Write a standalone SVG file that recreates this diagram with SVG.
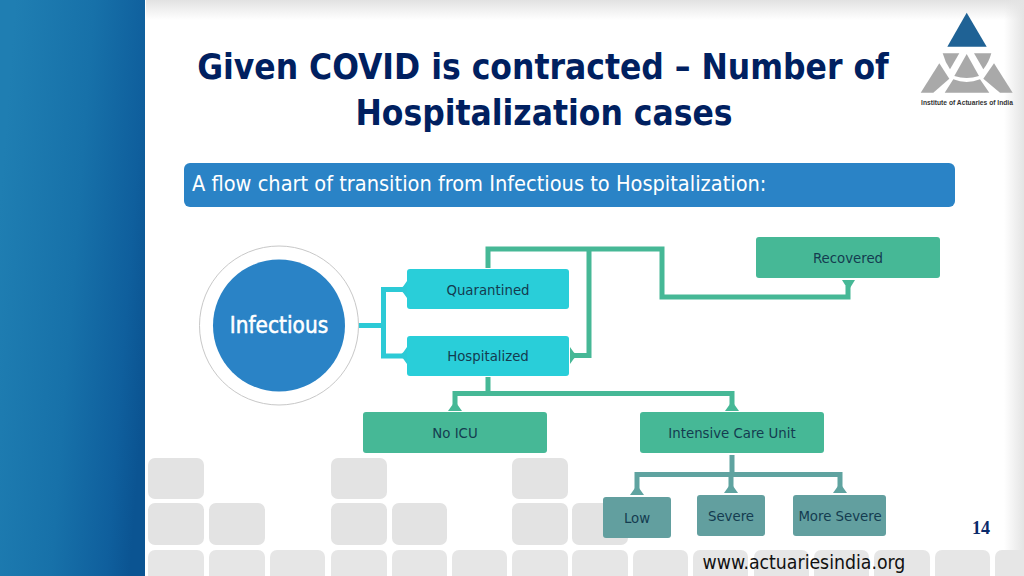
<svg xmlns="http://www.w3.org/2000/svg" width="1024" height="576" viewBox="0 0 1024 576">
<defs>
<linearGradient id="side" x1="0" y1="0.35" x2="1" y2="0.65"><stop offset="0" stop-color="#1f7eb2"/><stop offset="0.5" stop-color="#1771a9"/><stop offset="0.85" stop-color="#0f5f9d"/><stop offset="1" stop-color="#0b5492"/></linearGradient>
<linearGradient id="topB" x1="0" y1="0" x2="0" y2="1"><stop offset="0" stop-color="#e2e2e2"/><stop offset="1" stop-color="#ffffff"/></linearGradient>
<linearGradient id="rightB" x1="0" y1="0" x2="1" y2="0"><stop offset="0" stop-color="#e4e4e4" stop-opacity="0"/><stop offset="1" stop-color="#e4e4e4"/></linearGradient>
</defs>
<style>
text{font-family:"DejaVu Sans Condensed","DejaVu Sans",sans-serif}
.title{font-size:35px;font-weight:700;fill:#002060;text-anchor:middle}
.lbl{font-size:14.800px;fill:#143c50;text-anchor:middle}
.blk{fill:#e3e3e3}
.blk3{fill:#e6e6e6}
.cyan{fill:#29ced9}
.green{fill:#46b896}
.teal{fill:#629f9f}
.c1{fill:none;stroke:#2ccad6;stroke-width:5}
.c2{fill:none;stroke:#46b896;stroke-width:5}
.c3{fill:none;stroke:#5fa3a0;stroke-width:5}
.logo{fill:#a9a9a9}
</style>
<rect width="1024" height="576" fill="#ffffff"/>
<rect x="146" y="0" width="878" height="20" fill="url(#topB)"/>
<rect x="1004" y="0" width="20" height="576" fill="url(#rightB)"/>
<rect width="145" height="576" fill="url(#side)"/>
<g id="blocks">
<rect class="blk" x="148" y="458" width="56" height="41" rx="7"/>
<rect class="blk" x="331" y="458" width="56" height="41" rx="7"/>
<rect class="blk" x="512" y="458" width="56" height="41" rx="7"/>
<rect class="blk" x="148" y="503" width="56" height="42" rx="7"/>
<rect class="blk" x="209" y="503" width="56" height="42" rx="7"/>
<rect class="blk" x="331" y="503" width="56" height="42" rx="7"/>
<rect class="blk" x="392" y="503" width="55" height="42" rx="7"/>
<rect class="blk" x="512" y="503" width="56" height="42" rx="7"/>
<rect class="blk" x="572" y="503" width="56" height="42" rx="7"/>
<rect class="blk3" x="148" y="550" width="56" height="40" rx="7"/>
<rect class="blk3" x="209" y="550" width="56" height="40" rx="7"/>
<rect class="blk3" x="270" y="550" width="55" height="40" rx="7"/>
<rect class="blk3" x="331" y="550" width="56" height="40" rx="7"/>
<rect class="blk3" x="392" y="550" width="55" height="40" rx="7"/>
<rect class="blk3" x="452" y="550" width="55" height="40" rx="7"/>
<rect class="blk3" x="512" y="550" width="56" height="40" rx="7"/>
<rect class="blk3" x="572" y="550" width="56" height="40" rx="7"/>
<rect class="blk3" x="633" y="550" width="55" height="40" rx="7"/>
<rect class="blk3" x="693" y="550" width="55" height="40" rx="7"/>
<rect class="blk3" x="754" y="550" width="55" height="40" rx="7"/>
<rect class="blk3" x="814" y="550" width="55" height="40" rx="7"/>
<rect class="blk3" x="874" y="550" width="56" height="40" rx="7"/>
<rect class="blk3" x="935" y="550" width="55" height="40" rx="7"/>
<rect class="blk3" x="995" y="550" width="40" height="40" rx="7"/>
</g>
<text class="title" x="543" y="79">Given COVID is contracted – Number of</text>
<text class="title" x="544" y="125">Hospitalization cases</text>
<g id="logo">
<polygon points="966.7,12.7 947.3,46.7 986.7,46.7" fill="#1f6295"/>
<path class="logo" d="M942.7 53.3H959.3L950 69.3Q945 62 942.7 53.3Z"/>
<path class="logo" d="M974 53.3H991.3Q989 62 983.3 69.3Z"/>
<path class="logo" d="M966.7 54L979 76Q966.7 80 954.3 76Z"/>
<path class="logo" d="M939.3 63.3L949.3 78.7L933.3 92.7H920.7Z"/>
<path class="logo" d="M994 63.3L1012.7 92.7H1000L983.3 78.7Z"/>
<path class="logo" d="M953.3 79.3Q966.7 84.500 980 79.3L989.3 92.7H944.7Z"/>
<text x="967" y="105" font-size="6.700" font-weight="700" fill="#333333" text-anchor="middle" style="font-family:'Liberation Sans',sans-serif">Institute of Actuaries of India</text>
</g>
<g id="banner">
<rect x="184" y="163" width="771" height="44" rx="6" fill="#2a83c6"/>
<text x="192" y="191" font-size="21.600" fill="#ffffff">A flow chart of transition from Infectious to Hospitalization:</text>
</g>
<g id="connectors">
<path class="c1" d="M358 325.500H383M403 289.500H383.500V356H403"/>
<path class="c2" d="M488 268V249H662V297H848V286M589 249V355.500H573"/>
<path class="c2" d="M488 377V393.500M455 405V393.500H732V405"/>
<path class="c3" d="M732 455V474M731 474V490M637 493V474.500H840V491"/>
<path d="M407 281Q404 286 400 289.500Q404 293 407 298Z" fill="#2ccad6"/>
<path d="M407 347Q404 352 400 355.500Q404 359 407 364Z" fill="#2ccad6"/>
<path d="M570 347Q573 352 577 355.500Q573 359 570 364Z" fill="#46b896"/>
<polygon points="842,280 855,280 850,288 847,288" fill="#46b896"/>
<polygon points="448,411 462,411 457,404 453,404" fill="#46b896"/>
<polygon points="725,411 739,411 734,404 730,404" fill="#46b896"/>
<polygon points="630,495 644,495 639,488 635,488" fill="#5fa3a0"/>
<polygon points="724,493 738,493 733,486 729,486" fill="#5fa3a0"/>
<polygon points="833,493 847,493 842,486 838,486" fill="#5fa3a0"/>
</g>
<g id="infectious">
<circle cx="279" cy="325.500" r="79.500" fill="#ffffff" stroke="#c8c8c8" stroke-width="1"/>
<circle cx="279" cy="325.500" r="66" fill="#2a83c6"/>
<text x="279" y="333" font-size="22.400" fill="#ffffff" stroke="#ffffff" stroke-width="0.5" text-anchor="middle">Infectious</text>
</g>
<g id="quarantined"><rect class="cyan" x="407" y="269" width="162" height="40" rx="3"/><text class="lbl" x="488" y="295">Quarantined</text></g>
<g id="hospitalized"><rect class="cyan" x="407" y="336" width="162" height="40" rx="3"/><text class="lbl" x="488" y="361">Hospitalized</text></g>
<g id="recovered"><rect class="green" x="756" y="237" width="184" height="41" rx="3"/><text class="lbl" x="848" y="263">Recovered</text></g>
<g id="no-icu"><rect class="green" x="363" y="412" width="184" height="41" rx="3"/><text class="lbl" x="455" y="438">No ICU</text></g>
<g id="icu"><rect class="green" x="640" y="412" width="184" height="41" rx="3"/><text class="lbl" x="732" y="438">Intensive Care Unit</text></g>
<g id="low"><rect class="teal" x="603" y="497" width="68" height="41" rx="3"/><text class="lbl" x="637" y="523">Low</text></g>
<g id="severe"><rect class="teal" x="697" y="495" width="68" height="41" rx="3"/><text class="lbl" x="731" y="521">Severe</text></g>
<g id="more-severe"><rect class="teal" x="793" y="495" width="93" height="41" rx="3"/><text class="lbl" x="840" y="521">More Severe</text></g>
<text x="981" y="534" font-size="18" font-weight="700" fill="#0a2a6a" text-anchor="middle" style="font-family:'Liberation Serif',serif">14</text>
<text x="804" y="569" font-size="19.300" fill="#111111" text-anchor="middle">www.actuariesindia.org</text>
</svg>
